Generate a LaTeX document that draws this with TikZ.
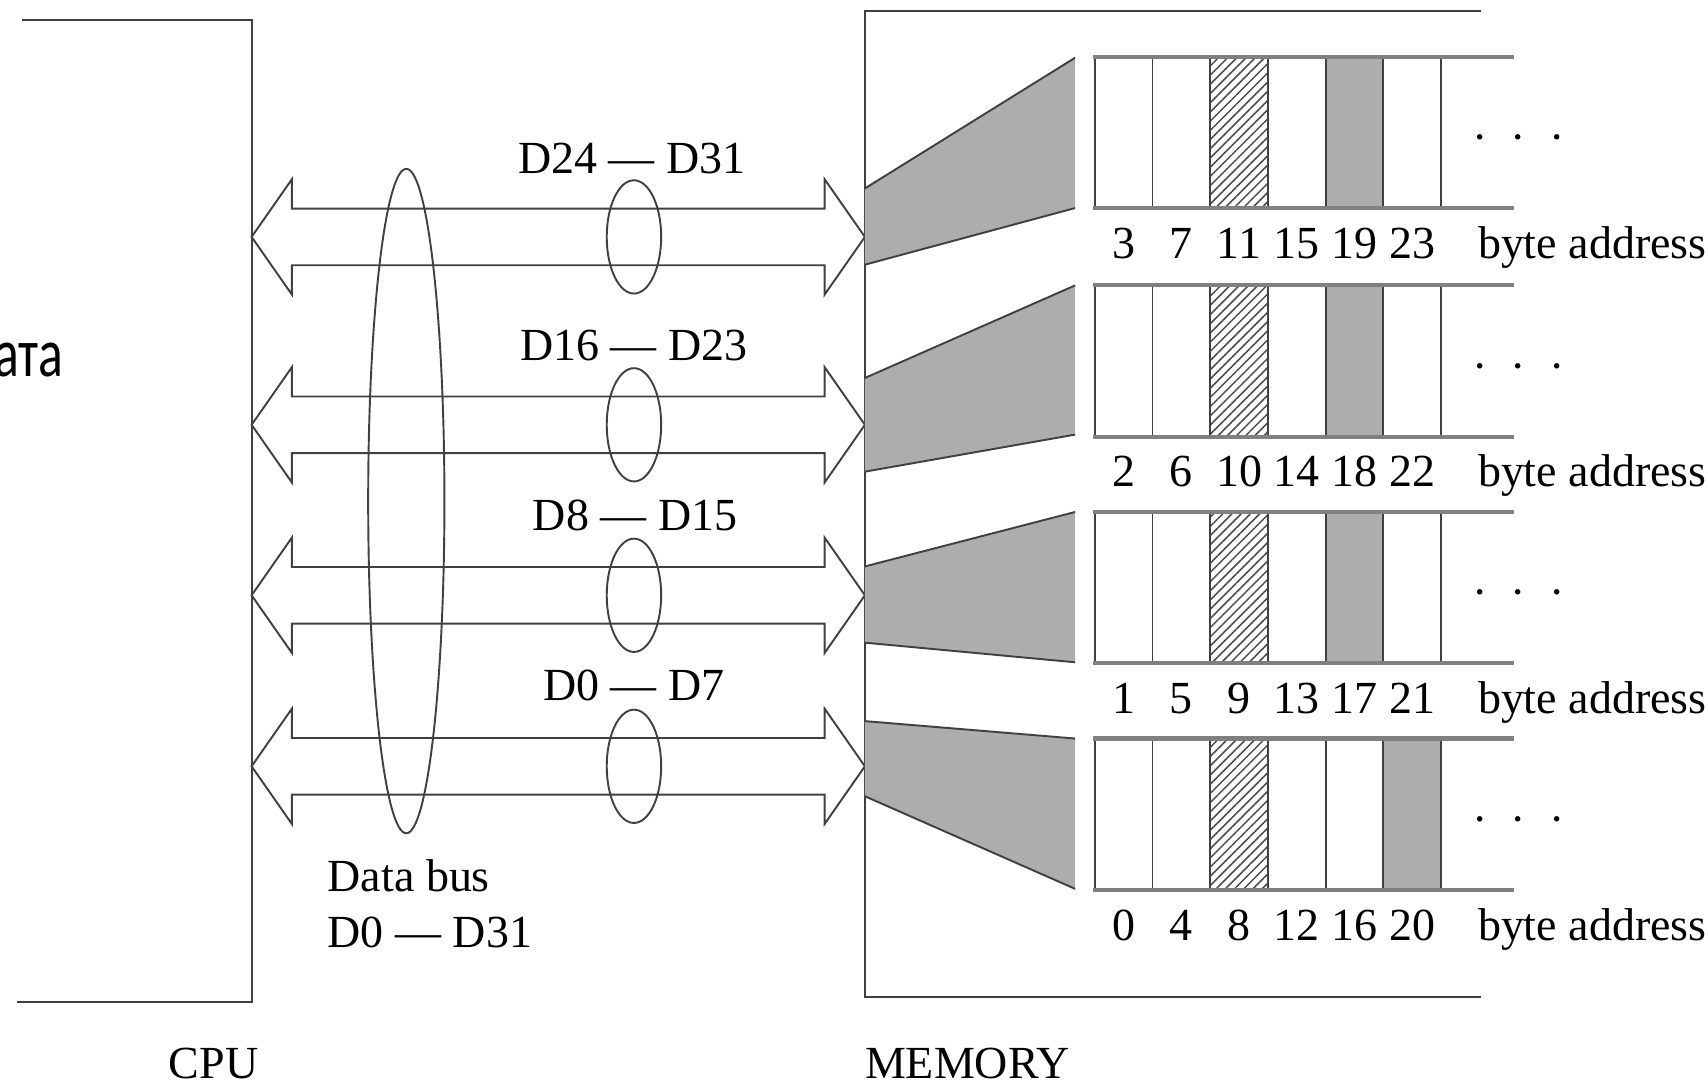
\documentclass[tikz,border=0pt,12pt]{standalone}
\usepackage{fontspec}
\setmainfont{Liberation Serif}
\newfontfamily\cyrfont{Carlito}
\usetikzlibrary{patterns.meta}
\begin{document}
\begin{tikzpicture}[x=0.01cm,y=-0.01cm,line width=.5pt,
  every node/.style={inner sep=0pt},
  ln/.style={draw=black!75},
  rowline/.style={draw=black!50,line width=1.1pt},
  shade/.style={fill=black!32},
  hatch/.style={pattern={Lines[angle=45,distance=1.7pt,line width=.4pt]},pattern color=black!70}]
 \useasboundingbox (0,0) rectangle (1568,994);
 \draw[ln] (20,18)--(231,18)--(231,920)--(16,920);
 \draw[ln] (1360,10)--(794,10)--(794,915)--(1360,915);
 \foreach \c in {217.5,390,546.5,703.5}
  \draw[ln] (231,\c)--(268,\c-53)--(268,\c-26)--(757,\c-26)--(757,\c-53)--(794,\c)
   --(757,\c+53)--(757,\c+26)--(268,\c+26)--(268,\c+53)--cycle;
 \foreach \c in {217.5,390,546.5,703.5}
  \draw[ln] (582,\c) ellipse [x radius=25,y radius=52];
 \draw[ln] (373,460) ellipse [x radius=35,y radius=305];
 \foreach \a/\b/\p/\q in {173/243/53/191,347/433/262/399,520/590/470/608,662/731/678/816}{
  \fill[shade] (794,\a)--(987,\p)--(987,\q)--(794,\b)--cycle;
  \draw[ln] (794,\a)--(987,\p) (794,\b)--(987,\q);
 }
 \foreach \t/\g/\n in {52/5/3,262/5/2,470/5/1,678/6/0}{
  \fill[shade] (952+53*\g,\t) rectangle ++(53,139);
  \fill[hatch] (1111,\t) rectangle ++(53,139);
  \foreach \k in {0,...,6} \draw[ln] (1005+53*\k,\t)--++(0,139);
  \draw[ln,densely dotted] (1111,\t)--++(0,139) (1164,\t)--++(0,139);
  \draw[rowline] (1003,\t)--(1390,\t) (1003,\t+139)--(1390,\t+139);
  \foreach \k in {0,...,5}{
   \pgfmathtruncatemacro\adr{\n+4*\k}
   \node[anchor=base] (a\adr) at (1031.5+53*\k,\t+185) {\adr};
  }
  \node[anchor=base west] (ba\n) at (1356,\t+185) {byte address};
  \node[anchor=base] (dots\n) at (1394,\t+88) {·\hspace{.5em}·\hspace{.5em}·};
 }
 \node[anchor=base] (d3) at (580,159) {D24 — D31};
 \node[anchor=base] (d2) at (582,331) {D16 — D23};
 \node[anchor=base] (d1) at (583,487) {D8 — D15};
 \node[anchor=base] (d0) at (582,643) {D0 — D7};
 \node[anchor=base west] (bus) at (300,818) {Data bus};
 \node[anchor=base west] (buswidth) at (300,870) {D0 — D31};
 \node[anchor=base] (cpu) at (196,990) {CPU};
 \node[anchor=base] (mem) at (888,990) {MEMORY};
 \node[anchor=base east,font=\cyrfont\fontsize{18}{20}\selectfont,xscale=.75] (ru) at (59,346) {ата};
\end{tikzpicture}
\end{document}
